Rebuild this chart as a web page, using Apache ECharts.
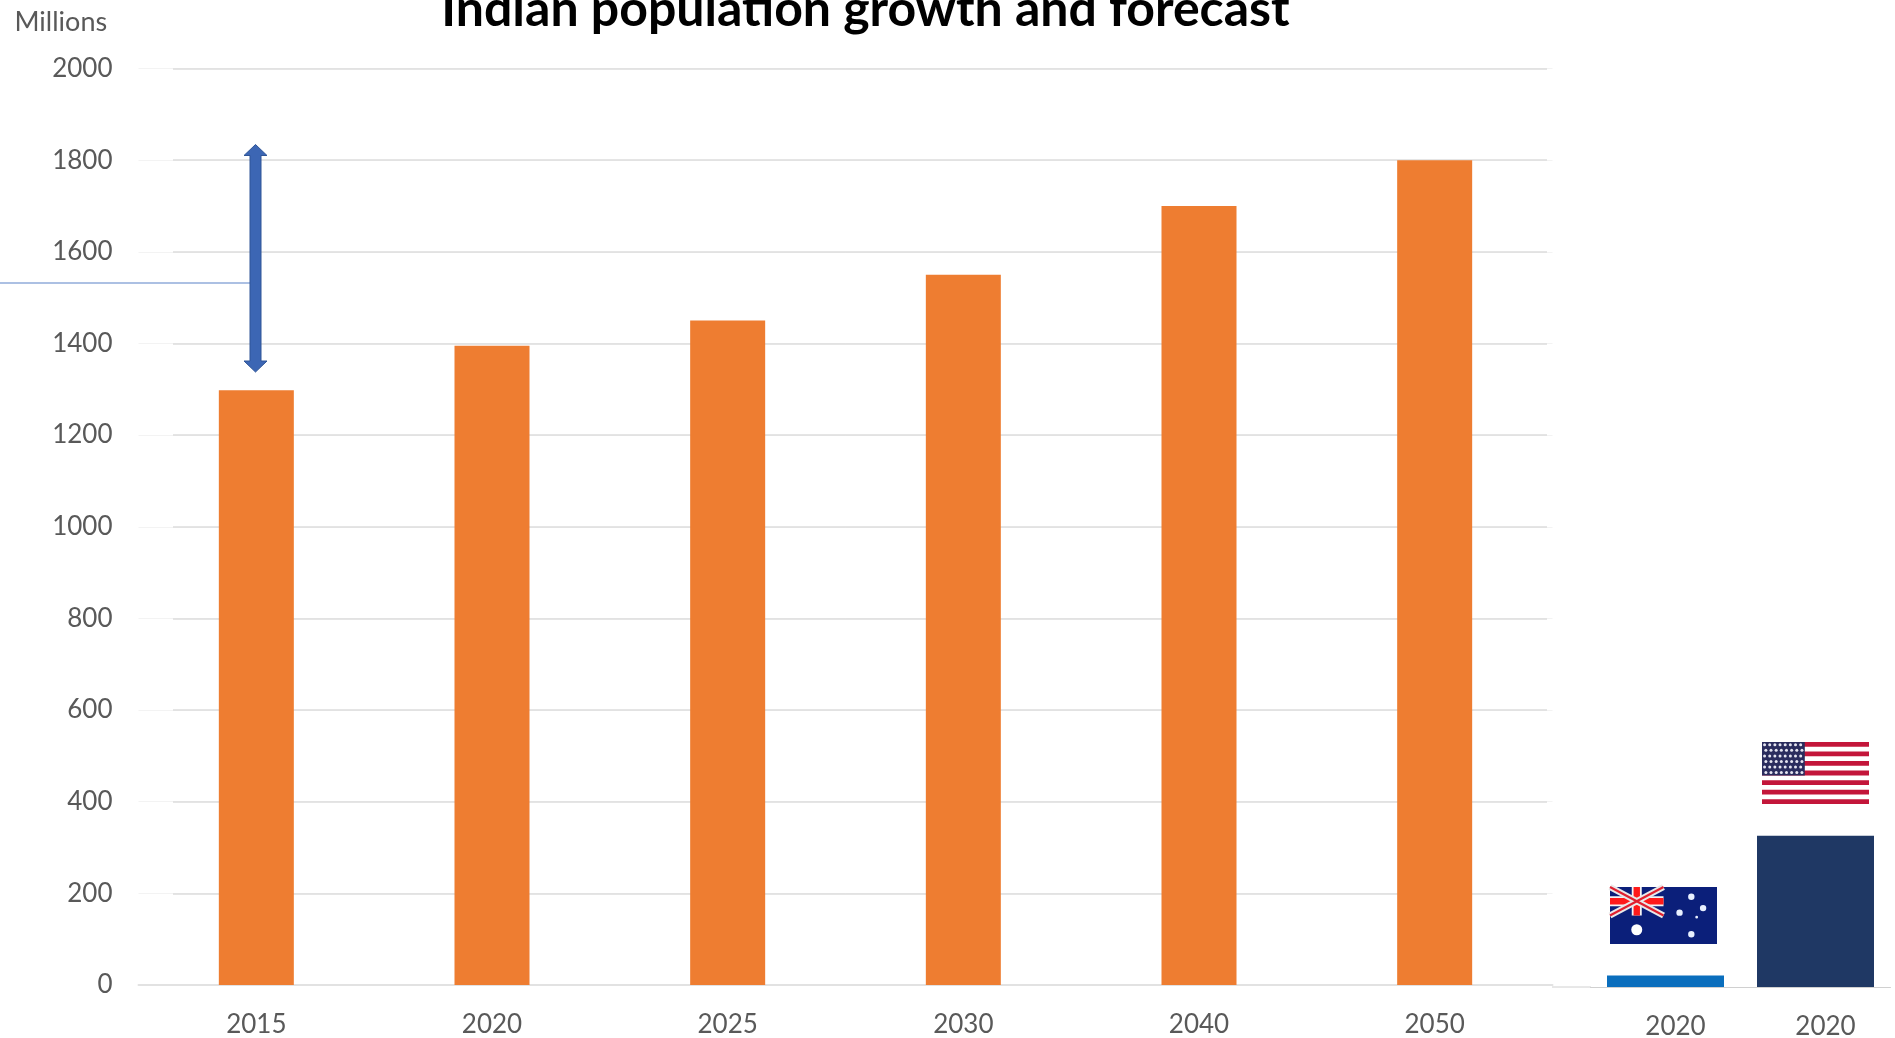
<!DOCTYPE html>
<html><head><meta charset="utf-8">
<style>html,body{margin:0;padding:0;background:#fff;overflow:hidden}#c{width:1895px;height:1038px}</style>
<script src="https://cdn.jsdelivr.net/npm/echarts@6/dist/echarts.min.js"></script>
</head><body><div id="c"></div>
<script>
const titleText = 'Indian population growth and forecast';
const unitText = 'Millions';
const indiaYears = ['2015','2020','2025','2030','2040','2050'];
const indiaValues = [1298,1395,1450,1550,1700,1800];
const otherYears = ['2020','2020'];
const otherValues = [25,330];
const otherColors = ['#0A6EBD','#1F3864'];

const FONT = 'Lato';
const LABEL = '#595959';
const chart = echarts.init(document.getElementById('c'), null, {renderer:'canvas'});

function rect(x,y,w,h,fill,z){return {type:'rect',shape:{x,y,width:w,height:h},style:{fill},z:z||10,silent:true};}
function line(x1,y1,x2,y2,stroke,w){return {type:'line',shape:{x1,y1,x2,y2},style:{stroke,lineWidth:w},z:11,silent:true};}
function dot(cx,cy,r,fill){return {type:'circle',shape:{cx,cy,r},style:{fill},z:12,silent:true};}

function usFlag(x,y,w,h){
  const out=[rect(x,y,w,h,'#fff')];
  const sh=h/13;
  for(let i=0;i<13;i+=2) out.push(rect(x,y+i*sh,w,sh,'#C3163A'));
  const cw=w*0.4,ch=sh*7;
  out.push(rect(x,y,cw,ch,'#2A2C5E'));
  for(let r=0;r<6;r++)for(let c=0;c<8;c++)
    out.push(dot(x+(c+0.5+(r%2?0.25:0))*cw/8.3,y+(r+0.5)*ch/6,1.5,'#E4E4F0'));
  return out;
}
function auFlag(x,y,w,h){
  const navy='#0B1F7A';
  const jw=w/2,jh=h/2;
  return [
    rect(x,y,w,h,navy),
    line(x,y,x+jw,y+jh,'#E9E9E9',6),
    line(x+jw,y,x,y+jh,'#E9E9E9',6),
    line(x,y,x+jw,y+jh,'#E0202F',2.2),
    line(x+jw,y,x,y+jh,'#E0202F',2.2),
    rect(x,y+jh/2-5,jw,10,'#F4F4F4'),
    rect(x+jw/2-5,y,10,jh,'#F4F4F4'),
    rect(x,y+jh/2-3.2,jw,6.4,'#FF1A1A'),
    rect(x+jw/2-3.2,y,6.4,jh,'#FF1A1A'),
    dot(x+w*0.25,y+h*0.75,5.5,'#fff'),
    dot(x+w*0.76,y+h*0.17,3.2,'#E8F0FF'),
    dot(x+w*0.65,y+h*0.45,3.2,'#E8F0FF'),
    dot(x+w*0.87,y+h*0.37,3.2,'#E8F0FF'),
    dot(x+w*0.76,y+h*0.83,3.2,'#E8F0FF'),
    dot(x+w*0.81,y+h*0.53,1.4,'#E8F0FF')
  ];
}

const ax=255.5, sw=5.5, hw=11.5, hh=11, arrowTop=144.5, arrowBot=372;
const arrow={type:'polygon',shape:{points:[
  [ax,arrowTop],[ax+hw,arrowTop+hh],[ax+sw,arrowTop+hh],[ax+sw,arrowBot-hh],[ax+hw,arrowBot-hh],[ax,arrowBot],
  [ax-hw,arrowBot-hh],[ax-sw,arrowBot-hh],[ax-sw,arrowTop+hh],[ax-hw,arrowTop+hh]]},
  style:{fill:'#3C66B4',stroke:'#2F5597',lineWidth:1},z:12,silent:true};

chart.setOption({
  animation:false,
  backgroundColor:'#fff',
  title:{text:titleText,left:860.5,top:-20.5,textAlign:'center',
    textStyle:{fontFamily:FONT,fontSize:50,fontWeight:'bold',color:'#000'}},
  grid:[
    {left:138.5,width:1414,top:68.5,height:916.5,outerBoundsMode:'none'},
    {left:1590.5,width:300,top:70.5,height:916.5,outerBoundsMode:'none'},
    {left:173,width:1374,top:68.5,height:916.5,outerBoundsMode:'none'}
  ],
  xAxis:[
    {gridIndex:0,type:'category',data:indiaYears,
      axisTick:{show:false},axisLine:{show:true,lineStyle:{color:'#E2E2E2',width:2}},
      axisLabel:{color:LABEL,fontFamily:FONT,fontSize:26,margin:27}},
    {gridIndex:1,type:'category',data:otherYears,
      axisTick:{show:false},axisLine:{show:true,lineStyle:{color:'#D0D0D0',width:1}},
      axisLabel:{color:LABEL,fontFamily:FONT,fontSize:26,margin:27,padding:[0,0,0,20],interval:0}},
    {gridIndex:2,type:'value',show:false}
  ],
  yAxis:[
    {gridIndex:0,type:'value',min:0,max:2000,interval:200,
      name:unitText,nameLocation:'end',nameGap:0,
      nameTextStyle:{color:LABEL,fontFamily:FONT,fontSize:27,align:'left',padding:[0,0,33,-124]},
      axisLine:{show:false},axisTick:{show:false},
      axisLabel:{color:LABEL,fontFamily:FONT,fontSize:26,margin:26,formatter:v=>String(v)},
      splitLine:{lineStyle:{color:'#F3F3F3',width:1}}},
    {gridIndex:1,type:'value',min:0,max:2000,interval:200,show:false,splitLine:{show:false}},
    {gridIndex:2,type:'value',min:0,max:2000,interval:200,
      axisLine:{show:false},axisTick:{show:false},axisLabel:{show:false},
      splitLine:{lineStyle:{color:'#DCDCDC',width:1.5}}}
  ],
  series:[
    {type:'bar',xAxisIndex:0,yAxisIndex:0,data:indiaValues,barWidth:75,
      itemStyle:{color:'#EE7D31'}},
    {type:'bar',xAxisIndex:1,yAxisIndex:1,barWidth:117,
      data:otherValues.map((v,i)=>({value:v,itemStyle:{color:otherColors[i]}}))}
  ],
  graphic:[
    line(0,283,250,283,'#5B82C8',1.2),
    arrow,
    line(1552,987,1591,987,'#D0D0D0',1),
    ...auFlag(1610,887,107,57),
    ...usFlag(1762,742,107,62)
  ]
});
</script></body></html>
